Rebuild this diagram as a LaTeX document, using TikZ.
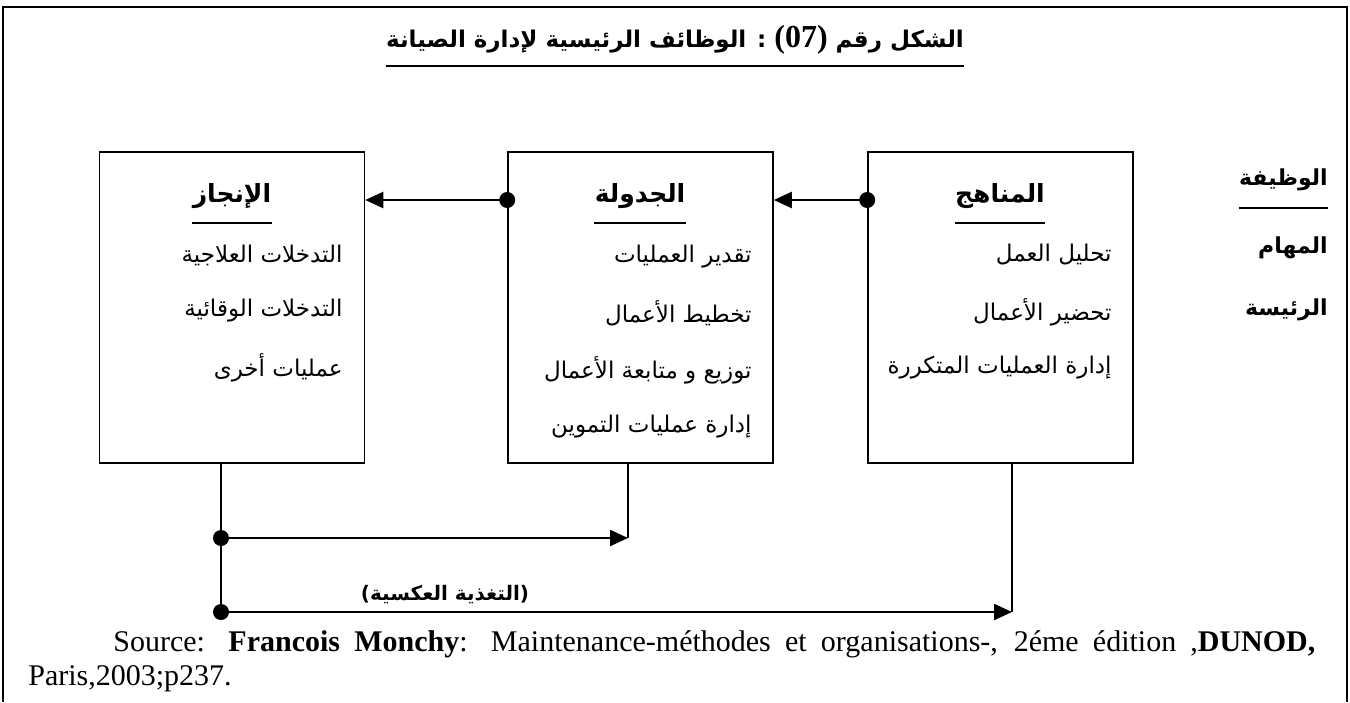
\documentclass[tikz,border=0pt]{standalone}
\usepackage{fontspec}
\setmainfont{Liberation Serif}
\newfontfamily\arabicfont[Script=Arabic]{DejaVu Sans}
\TeXXeTstate=1
\usetikzlibrary{arrows.meta}

\begin{document}
\begin{tikzpicture}[x=0.5pt,y=-0.5pt,
  frameline/.style={line width=1.1pt},
  fbox/.style={draw, line width=0.8pt, minimum width=132.5pt, minimum height=155.5pt, inner sep=0pt},
  flow/.style={line width=1.2pt, -{Triangle[length=9pt,width=8pt]}},
  wire/.style={line width=0.8pt},
  uline/.style={line width=1pt},
  dotnode/.style={circle, fill=black, inner sep=0pt, minimum size=8pt},
  ttl/.style={inner sep=0pt, font=\arabicfont\bfseries\fontsize{11.5}{13}\selectfont},
  head/.style={inner sep=0pt, font=\arabicfont\bfseries\fontsize{12.5}{14}\selectfont},
  item/.style={anchor=east, inner sep=0pt, font=\arabicfont\fontsize{11.5}{13}\selectfont},
  side/.style={anchor=east, inner sep=0pt, font=\arabicfont\bfseries\fontsize{11}{13}\selectfont},
  fbl/.style={inner sep=0pt, font=\arabicfont\bfseries\fontsize{10}{12}\selectfont},
  src/.style={anchor=base west, inner sep=0pt, font=\fontsize{15}{17}\selectfont}]
\useasboundingbox (0,0) rectangle (1350,702);

% page frame, open at the bottom
\draw[frameline] (3,702) -- (3,7) -- (1347,7) -- (1347,702);

% title
\node[ttl] (title) at (675,40) {\beginR الشكل رقم \beginL{\rmfamily\bfseries\fontsize{16}{16}\selectfont(07)}\endL{} : الوظائف الرئيسية لإدارة الصيانة\endR};
\coordinate (tly) at (0,66);
\draw[uline] (title.west |- tly) -- (title.east |- tly);

% the three function boxes
\node[fbox] (A) at (232,307.5) {};
\node[fbox] (B) at (640.5,307.5) {};
\node[fbox] (C) at (1000.5,307.5) {};

% headings
\coordinate (hly) at (0,223);
\node[head] (hA) at (232,196) {\beginR الإنجاز\endR};
\node[head] (hB) at (640,196) {\beginR الجدولة\endR};
\node[head] (hC) at (1000,196) {\beginR المناهج\endR};
\draw[uline] (hA.west |- hly) -- (hA.east |- hly);
\draw[uline] (hB.west |- hly) -- (hB.east |- hly);
\draw[uline] (hC.west |- hly) -- (hC.east |- hly);

% tasks of each function
\node[item] (a1) at (343,255) {\beginR التدخلات العلاجية\endR};
\node[item] (a2) at (343,311) {\beginR التدخلات الوقائية\endR};
\node[item] (a3) at (343,368) {\beginR عمليات أخرى\endR};

\node[item] (b1) at (752,257) {\beginR تقدير العمليات\endR};
\node[item] (b2) at (752,313) {\beginR تخطيط الأعمال\endR};
\node[item] (b3) at (752,370) {\beginR توزيع و متابعة الأعمال\endR};
\node[item] (b4) at (752,427) {\beginR إدارة عمليات التموين\endR};

\node[item] (c1) at (1112,255) {\beginR تحليل العمل\endR};
\node[item] (c2) at (1112,312) {\beginR تحضير الأعمال\endR};
\node[item] (c3) at (1112,368) {\beginR إدارة العمليات المتكررة\endR};

% row labels
\node[side] (s1) at (1328,180) {\beginR الوظيفة\endR};
\coordinate (sly) at (0,208);
\draw[uline] (s1.west |- sly) -- (s1.east |- sly);
\node[side] (s2) at (1328,248) {\beginR المهام\endR};
\node[side] (s3) at (1328,310) {\beginR الرئيسة\endR};

% forward flow between functions
\coordinate (ay) at (0,200);
\node[dotnode] (dC) at (C.west |- ay) {};
\node[dotnode] (dB) at (B.west |- ay) {};
\draw[flow] (dC.center) -- (B.east |- ay);
\draw[flow] (dB.center) -- (A.east |- ay);

% feedback loops
\coordinate (mx) at (628,538);
\coordinate (rx) at (1012,612);
\node[dotnode] (j1) at (221,538) {};
\node[dotnode] (j2) at (221,612) {};
\draw[wire] (A.south -| j1) -- (j2.center);
\draw[wire] (B.south -| mx) -- (mx);
\draw[wire] (C.south -| rx) -- (rx);
\draw[flow] (j1.center) -- (mx);
\draw[flow] (j2.center) -- (rx);
\node[fbl] (fb) at (445,595) {\beginR(التغذية العكسية)\endR};

% source, first line justified to the right margin
\node[src] (src1) at (113,651) {\makebox[601pt][s]{Source: \textbf{Francois Monchy}: Maintenance-méthodes et organisations-, 2éme édition ,\textbf{DUNOD,}}};
\node[src] (src2) at (28,685) {Paris,2003;p237.};
\end{tikzpicture}
\end{document}
